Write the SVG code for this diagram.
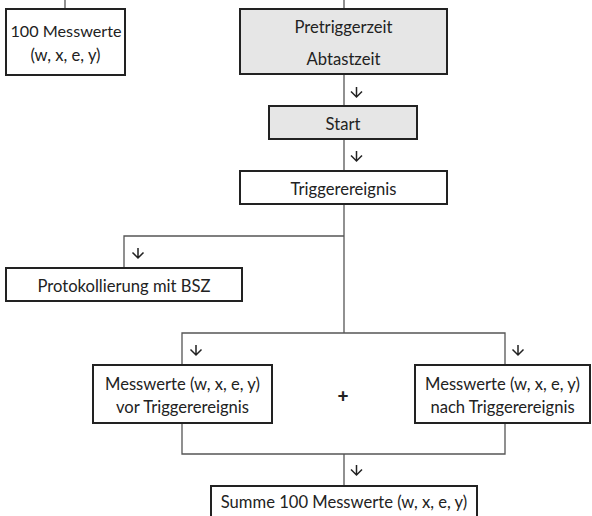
<svg xmlns="http://www.w3.org/2000/svg" width="592" height="516" viewBox="0 0 592 516">
<style>
.box{fill:#fff;stroke:#222;stroke-width:2}
.grey{fill:#e6e6e6}
.t{font-family:Lato,"Liberation Sans",sans-serif;font-size:16.6px;fill:#222;text-anchor:middle}
.c{fill:none;stroke:#555;stroke-width:1.3}
.ar{fill:none;stroke:#222;stroke-width:1.5}
</style>
<defs>
<path id="arr" class="ar" d="M0,-5 V5 M-5.5,-0.5 L0,5 L5.5,-0.5"/>
</defs>
<rect width="592" height="516" fill="#fff"/>
<g id="connectors">
<path class="c" d="M65,0 V9"/>
<path class="c" d="M344,0 V9"/>
<path class="c" d="M344,74 V106"/>
<path class="c" d="M344,139 V171"/>
<path class="c" d="M344,204 V333"/>
<path class="c" d="M344,236 H124 V268"/>
<path class="c" d="M182,365 V333 H505 V365"/>
<path class="c" d="M182,423 V454 H505 V423"/>
<path class="c" d="M344,454 V486"/>
<use href="#arr" x="356.5" y="92"/>
<use href="#arr" x="356.5" y="156"/>
<use href="#arr" x="138" y="253"/>
<use href="#arr" x="196" y="350"/>
<use href="#arr" x="518" y="350"/>
<use href="#arr" x="356.5" y="470"/>
</g>
<g id="n-messwerte100">
<rect class="box" x="6" y="9" width="119" height="66"/>
<text class="t" x="66" y="37" style="font-size:16.2px">100 Messwerte</text>
<text class="t" x="65.5" y="61">(w, x, e, y)</text>
</g>
<g id="n-pretrigger">
<rect class="box grey" x="240" y="9" width="207" height="65"/>
<text class="t" x="343.5" y="33">Pretriggerzeit</text>
<text class="t" x="343.5" y="65">Abtastzeit</text>
</g>
<g id="n-start">
<rect class="box grey" x="269" y="106" width="148" height="33"/>
<text class="t" x="343" y="130">Start</text>
</g>
<g id="n-trigger">
<rect class="box" x="240" y="171" width="207" height="33"/>
<text class="t" x="343.5" y="195">Triggerereignis</text>
</g>
<g id="n-protokoll">
<rect class="box" x="6" y="268" width="236" height="33"/>
<text class="t" x="124" y="292">Protokollierung mit BSZ</text>
</g>
<g id="n-vor">
<rect class="box" x="93" y="365" width="179" height="58"/>
<text class="t" x="182.5" y="390">Messwerte (w, x, e, y)</text>
<text class="t" x="182.5" y="413">vor Triggerereignis</text>
</g>
<g id="n-plus">
<text class="t" x="343" y="403" style="font-weight:900;font-size:19px">+</text>
</g>
<g id="n-nach">
<rect class="box" x="415" y="365" width="175" height="58"/>
<text class="t" x="502.5" y="390">Messwerte (w, x, e, y)</text>
<text class="t" x="502.5" y="413">nach Triggerereignis</text>
</g>
<g id="n-summe">
<rect class="box" x="211" y="486" width="266" height="40"/>
<text class="t" x="344" y="508">Summe 100 Messwerte (w, x, e, y)</text>
</g>
</svg>
